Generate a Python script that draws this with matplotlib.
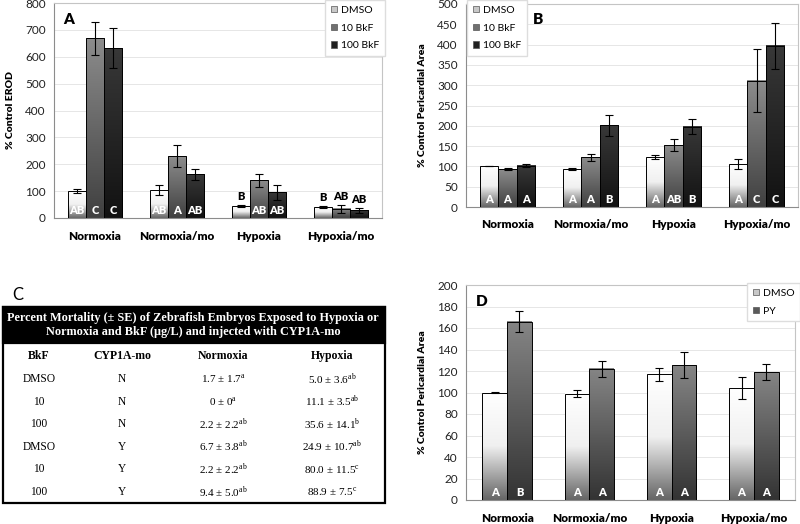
import numpy as np
import matplotlib
matplotlib.use("Agg")
import matplotlib.pyplot as plt
from matplotlib.colors import LinearSegmentedColormap
from matplotlib.patches import Rectangle, Patch

plt.rcParams["font.family"] = ["Lato", "DejaVu Sans"]
plt.rcParams["mathtext.fontset"] = "stix"

groups = ["Normoxia", "Normoxia/mo", "Hypoxia", "Hypoxia/mo"]

# panel A - EROD
erod_series = ["DMSO", "10 BkF", "100 BkF"]
erod_vals = [[100, 104, 46, 42], [668, 230, 141, 35], [632, 162, 95, 29]]
erod_err = [[8, 17, 4, 3], [61, 40, 24, 15], [74, 22, 27, 10]]
erod_letters = [["AB", "AB", "B", "B"], ["C", "A", "AB", "AB"], ["C", "AB", "AB", "AB"]]

# panel B - pericardial area, BkF
peri_vals = [[101, 94, 122, 106], [93, 122, 152, 311], [102, 201, 198, 397]]
peri_err = [[1, 2, 5, 13], [2, 8, 15, 78], [4, 25, 18, 57]]
peri_letters = [["A", "A", "A", "A"], ["A", "A", "AB", "C"], ["A", "B", "B", "C"]]

# panel D - pericardial area, PY
py_series = ["DMSO", "PY"]
py_vals = [[100, 99, 117, 104], [166, 122, 125.5, 119]]
py_err = [[0.5, 3, 6, 10], [10, 7.5, 12, 7.5]]
py_letters = [["A", "A", "A", "A"], ["B", "A", "A", "A"]]

# panel C - mortality table
tbl_title = ("Percent Mortality (\u00b1 SE) of Zebrafish Embryos Exposed to Hypoxia or\n"
             "Normoxia and BkF (\u03bcg/L) and injected with CYP1A-mo")
tbl_cols = ["BkF", "CYP1A-mo", "Normoxia", "Hypoxia"]
tbl_bkf = ["DMSO", "10", "100", "DMSO", "10", "100"]
tbl_mo = ["N", "N", "N", "Y", "Y", "Y"]
tbl_norm = [("1.7 \u00b1 1.7", "a"), ("0 \u00b1 0", "a"), ("2.2 \u00b1 2.2", "ab"),
            ("6.7 \u00b1 3.8", "ab"), ("2.2 \u00b1 2.2", "ab"), ("9.4 \u00b1 5.0", "ab")]
tbl_hyp = [("5.0 \u00b1 3.6", "ab"), ("11.1 \u00b1 3.5", "ab"), ("35.6 \u00b1 14.1", "b"),
           ("24.9 \u00b1 10.7", "ab"), ("80.0 \u00b1 11.5", "c"), ("88.9 \u00b1 7.5", "c")]

# gradient colours (top -> bottom) and legend colours
grads = {
    "DMSO": ["#ffffff", "#f0f0f0", "#666666"],
    "10 BkF": ["#8c8c8c", "#404040"],
    "100 BkF": ["#383838", "#121212"],
    "PY": ["#858585", "#333333"],
}
leg_cols = {"DMSO": "#c8c8c8", "10 BkF": "#707070", "100 BkF": "#202020", "PY": "#5a5a5a"}

W, H = 800, 524
fig = plt.figure(figsize=(W / 100, H / 100), dpi=100)


def px_axes(x0, y0, x1, y1):
    return fig.add_axes([x0 / W, 1 - y1 / H, (x1 - x0) / W, (y1 - y0) / H])


def bar_panel(ax, series, vals, errs, letters, width, ymax, step, ylabel):
    n = len(series)
    x = np.arange(len(groups))
    ramp = np.linspace(0, 1, 128).reshape(-1, 1)
    for i, name in enumerate(series):
        cmap = LinearSegmentedColormap.from_list(name, grads[name])
        xs = x + (i - (n - 1) / 2) * width
        for j, xc in enumerate(xs):
            h = vals[i][j]
            ax.imshow(ramp, cmap=cmap, aspect="auto", origin="upper",
                      extent=(xc - width / 2, xc + width / 2, 0, h), zorder=2)
        ax.bar(xs, vals[i], width, fill=False, edgecolor="black", linewidth=0.7, zorder=3)
        ax.errorbar(xs, vals[i], yerr=errs[i], fmt="none", ecolor="black",
                    elinewidth=0.8, capsize=3, capthick=0.8, zorder=4)
        for j, xc in enumerate(xs):
            h = vals[i][j]
            if h < 0.08 * ymax:
                # short bars get the letter above the error bar
                ax.text(xc, h + errs[i][j] + 0.012 * ymax, letters[i][j], ha="center",
                        va="bottom", fontsize=8, fontweight="heavy", color="black", zorder=5)
            else:
                ax.text(xc, 0.035 * ymax, letters[i][j], ha="center", va="center",
                        fontsize=8, fontweight="heavy", color="white", zorder=5)
    ax.set_xlim(-0.5, len(groups) - 0.5)
    ax.set_ylim(0, ymax)
    ax.set_yticks(np.arange(0, ymax + step / 2, step))
    ax.set_xticks(x)
    ax.set_xticklabels(groups, fontweight="heavy", fontsize=8.5)
    ax.tick_params(axis="x", length=0, pad=9)
    ax.tick_params(axis="y", length=0, pad=6, labelsize=8.5, colors="#222222")
    ax.grid(axis="y", color="#e6e6e6", linewidth=0.7)
    ax.set_axisbelow(True)
    for s in ["left", "bottom"]:
        ax.spines[s].set_color("#8c8c8c")
    for s in ["top", "right"]:
        ax.spines[s].set_color("#c4c4c4")
    ax.set_ylabel(ylabel, fontweight="heavy", fontsize=7.5)


def legend_at(series, x0, y0):
    handles = [Patch(facecolor=leg_cols[s], edgecolor="#555555", linewidth=0.5) for s in series]
    fig.legend(handles, series, loc="upper left", bbox_to_anchor=(x0 / W, 1 - y0 / H),
               fontsize=7.5, frameon=True, fancybox=False, edgecolor="#dddddd",
               framealpha=1, handlelength=0.6, handleheight=0.6, handletextpad=0.35,
               labelspacing=0.85, borderpad=0.55, borderaxespad=0)


# A
axA = px_axes(54, 3, 382, 218)
bar_panel(axA, erod_series, erod_vals, erod_err, erod_letters, 0.22, 800, 100, "% Control EROD")
axA.yaxis.set_label_coords(-0.118, 0.5)
axA.text(0.028, 0.955, "A", transform=axA.transAxes, fontsize=11, fontweight="heavy", va="top")
legend_at(erod_series, 325, 0)

# B
axB = px_axes(466, 4, 798, 207)
bar_panel(axB, erod_series, peri_vals, peri_err, peri_letters, 0.22, 500, 50,
          "% Control Pericardial Area")
axB.yaxis.set_label_coords(-0.118, 0.5)
axB.text(0.2, 0.955, "B", transform=axB.transAxes, fontsize=11, fontweight="heavy", va="top")
legend_at(erod_series, 467, 0)

# D
axD = px_axes(466, 285, 795, 500)
bar_panel(axD, py_series, py_vals, py_err, py_letters, 0.3, 200, 20,
          "% Control Pericardial Area")
axD.yaxis.set_label_coords(-0.118, 0.5)
axD.text(0.03, 0.955, "D", transform=axD.transAxes, fontsize=11, fontweight="heavy", va="top")
legend_at(py_series, 747, 283)

# C - table drawn in pixel coordinates of its own axes
axC = px_axes(0, 280, 400, 524)
axC.set_xlim(0, 400)
axC.set_ylim(244, 0)
axC.axis("off")
axC.text(12, 15, "C", fontsize=12, va="center", ha="left")
axC.add_patch(Rectangle((3, 27), 382, 196, facecolor="white", edgecolor="black", linewidth=1.6))
axC.add_patch(Rectangle((3, 27), 382, 36, facecolor="black", edgecolor="black", linewidth=1.6))
serif = ["Liberation Serif", "DejaVu Serif"]
axC.text(193, 45, tbl_title, ha="center", va="center", color="white", fontsize=8.8,
         fontweight="bold", family=serif, linespacing=1.2)
col_x = [39, 122, 223, 332]
for cx, name in zip(col_x, tbl_cols):
    axC.text(cx, 76, name, ha="center", va="center", fontsize=8.5, fontweight="bold", family=serif)
row_y = 99 + 22.6 * np.arange(len(tbl_bkf))
for k, ry in enumerate(row_y):
    axC.text(col_x[0], ry, tbl_bkf[k], ha="center", va="center", fontsize=8.3, family=serif)
    axC.text(col_x[1], ry, tbl_mo[k], ha="center", va="center", fontsize=8.3, family=serif)
    for cx, cell in ((col_x[2], tbl_norm[k]), (col_x[3], tbl_hyp[k])):
        axC.text(cx, ry, cell[0] + r"$^{\mathregular{" + cell[1] + "}}$", ha="center",
                 va="center", fontsize=8, family=serif)

fig.savefig("out.png", dpi=100)
